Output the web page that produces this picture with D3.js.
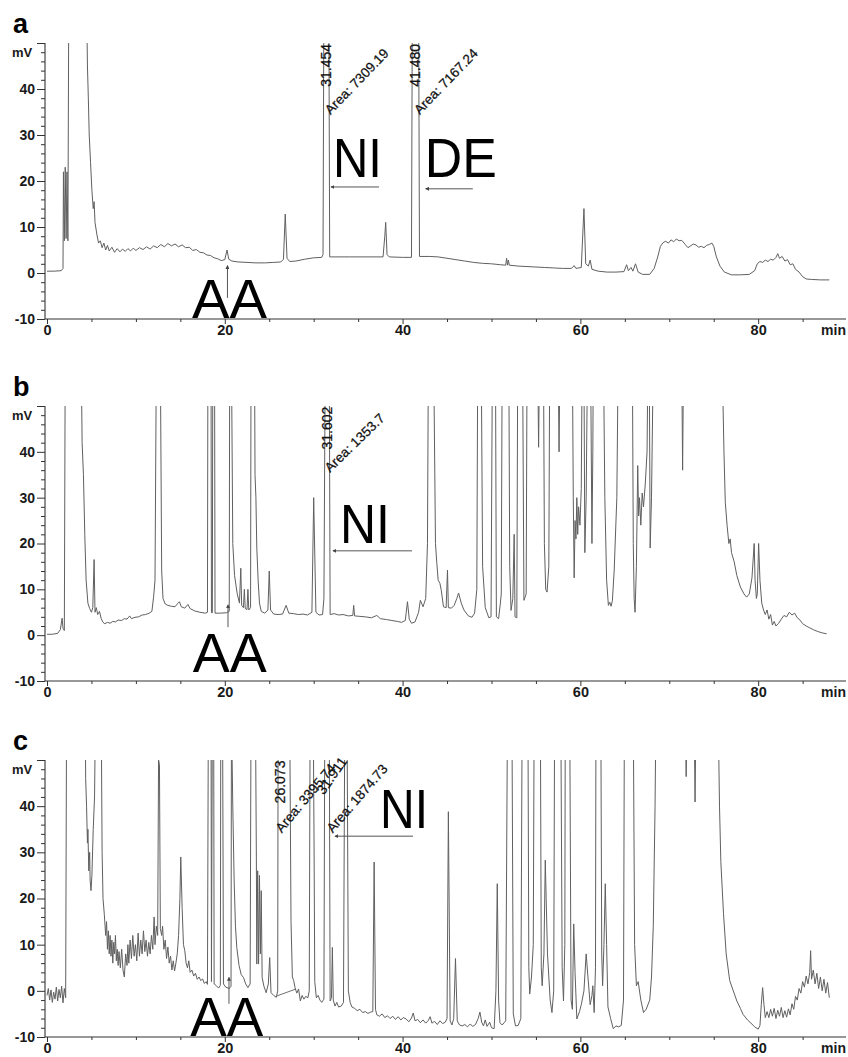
<!DOCTYPE html>
<html>
<head>
<meta charset="utf-8">
<script src="https://cdn.jsdelivr.net/npm/d3@7"></script>
<style>
  body { margin: 0; background: #fff; }
  svg { display: block; }
</style>
</head>
<body>
<svg id="chart" width="848" height="1057"></svg>
<script>
// Three HPLC chromatograms (a, b, c). Trace points are [min, mV];
// 60 stands for "off scale" (clipped at the 50 mV frame top).

const traceA = [
  [0,0.4],[0.8,0.4],[1.6,0.5],[1.8,1],[1.85,22],[1.95,7],[2.05,23],[2.15,7.5],[2.25,22],[2.35,7],[2.45,60],
  [4.45,60],[4.55,45],[4.65,38],[4.75,30],[4.9,24],[5.05,18],[5.2,14],[5.3,15.5],[5.4,11],[5.6,8.5],[5.8,6.5],
  [6.0,7],[6.2,5.5],[6.4,6.5],[6.6,5],[6.8,6],[7.0,4.8],[7.3,5.6],[7.6,4.5],[7.9,5.3],[8.2,4.6],[8.5,5.2],
  [8.8,4.7],[9.1,5.3],[9.4,4.8],[9.7,5.4],[10,4.9],[10.4,5.5],[10.8,5.1],[11.2,5.7],[11.6,5.2],[12,5.9],
  [12.4,5.5],[12.8,6.2],[13.2,5.7],[13.6,6.4],[14,5.9],[14.4,6.3],[14.8,5.7],[15.2,6.1],[15.6,5.5],[16,5.6],
  [16.4,4.9],[16.8,5.1],[17.2,4.5],[17.6,4.4],[18,3.9],[18.4,3.8],[18.8,3.3],[19.2,3.1],[19.6,2.7],[20.0,2.9],
  [20.25,5],[20.45,3],[20.8,2.6],[21.5,2.4],[22.5,2.3],[23.5,2.2],[24.5,2.2],[25.5,2.3],[26.3,2.4],[26.6,3],
  [26.8,12.8],[27.0,3.2],[27.3,2.5],[28,2.6],[29,3],[30,3.3],[30.9,3.4],[31.05,4],[31.15,60],[31.7,60],
  [31.8,3.5],[32.5,3.5],[34,3.5],[36,3.5],[37.8,3.5],[38.0,8],[38.1,11],[38.25,4],[38.5,3.5],[40,3.4],
  [41.0,3.4],[41.1,60],[41.8,60],[41.9,3.6],[43,3.6],[44,3.5],[45,3.2],[46,2.9],[47,2.6],[48,2.3],[49,2.1],
  [50,2],[51,1.8],[51.6,1.7],[51.7,3.2],[51.8,1.7],[51.9,2.8],[52,1.7],[53,1.5],[54,1.4],[55,1.3],[56,1.2],
  [57,1.1],[58,1],[59,1],[59.3,1.6],[59.5,1],[60.1,1.2],[60.4,14],[60.6,2],[60.9,1.5],[61.1,2.8],[61.3,0.8],
  [62,0.4],[63,0.2],[64,0.2],[64.9,0.3],[65.2,1.8],[65.4,0.5],[65.7,1.2],[65.9,0.4],[66.2,2],[66.5,0.2],
  [67,-0.3],[67.8,-0.3],[68.3,1],[68.7,3.5],[69,5.8],[69.3,6.6],[69.6,6.9],[69.9,6.5],[70.2,7.2],[70.5,6.8],
  [70.8,7.4],[71.1,7],[71.4,7.1],[71.8,6.2],[72.1,5.5],[72.4,5.9],[72.7,6.3],[73.0,6.1],[73.3,5.6],[73.6,5.8],
  [73.9,5.5],[74.2,6],[74.5,6.2],[74.8,6.5],[75.0,5.8],[75.3,3.5],[75.7,1.5],[76.2,0.2],[77,-0.4],[78,-0.4],
  [79,-0.3],[79.6,0.5],[79.9,2],[80.2,2.5],[80.5,2.3],[80.8,2.8],[81.1,2.5],[81.4,3],[81.7,2.8],[82,3.4],
  [82.2,4.2],[82.4,3.2],[82.7,3.6],[83,2.6],[83.3,2.9],[83.6,1.8],[83.9,2],[84.2,0.8],[84.6,0.2],[85,-0.8],
  [85.4,-1.3],[86,-1.4],[87,-1.5],[88,-1.5]
];

const traceB = [
  [0,0.2],[0.6,0.2],[1.2,0.4],[1.5,1.2],[1.7,3.7],[1.8,1.5],[1.95,1],[2.05,60],[3.85,60],[3.95,42],[4.1,35],
  [4.25,22],[4.4,12],[4.6,7],[4.8,5.8],[5.0,5],[5.15,6],[5.3,16.5],[5.4,5],[5.55,6],[5.7,4.5],[5.9,5.2],
  [6.1,3.6],[6.3,2.8],[6.5,2.5],[6.8,2.8],[7.1,2.6],[7.4,3],[7.7,2.9],[8,3.3],[8.4,3.2],[8.7,3.6],[9.0,3.5],
  [9.3,4.2],[9.5,3.6],[9.9,3.9],[10.3,4],[10.7,4.4],[11.1,4.5],[11.5,4.8],[11.8,5.2],[12.0,8.5],[12.15,12],
  [12.3,60],[12.75,60],[12.9,14],[13.05,8],[13.3,6.8],[13.6,6.5],[14.0,6.3],[14.4,6.2],[14.7,6.9],[14.9,7.3],
  [15.1,6.2],[15.5,5.9],[15.85,6.7],[16.1,5.8],[16.6,5.3],[17.2,5],[17.8,4.8],[18.05,5],[18.1,60],[18.45,60],
  [18.5,4.9],[18.6,4.9],[18.65,60],[18.85,60],[18.9,4.8],[19.5,4.8],[20.2,4.9],[20.5,5.2],[20.55,60],
  [20.75,60],[20.9,20],[21.1,13],[21.4,9],[21.65,7],[21.8,14.6],[21.9,6.5],[22.1,6],[22.2,10],[22.3,5.8],
  [22.5,5.6],[22.6,10],[22.7,5.5],[22.9,6],[22.95,60],[23.35,60],[23.4,35],[23.5,30],[23.6,19],[23.75,12],
  [23.9,7],[24.1,5.2],[24.5,4.8],[24.85,5.5],[25.0,14],[25.15,5.5],[25.5,4.6],[26.0,4.5],[26.5,4.6],
  [26.9,6.5],[27.2,4.8],[27.7,4.7],[28.3,4.5],[28.8,4.6],[29.3,4.4],[29.8,5],[30.0,30],[30.25,5],[30.6,4.4],
  [31.0,4.5],[31.15,8],[31.3,60],[31.75,60],[31.85,4.5],[32.3,4.7],[32.8,4.4],[33.3,4.5],[33.9,4.2],
  [34.4,4.3],[34.5,6.5],[34.6,4.2],[35.2,4.1],[35.8,4.0],[36.5,3.8],[37.1,4.3],[37.5,3.6],[38.2,3.4],
  [38.8,3.2],[39.4,3],[39.9,2.8],[40.3,3.2],[40.55,7.3],[40.75,3.5],[41.0,2.6],[41.4,2.9],[41.8,5],[42.0,7.6],
  [42.3,6.2],[42.6,8],[42.8,20],[42.9,60],[43.5,60],[43.7,20],[43.85,15.7],[44.0,12],[44.2,11.3],[44.35,9.8],
  [44.6,6.2],[44.9,6],[45.05,14.2],[45.15,6],[45.5,5.9],[45.8,6.5],[46.1,8],[46.3,9.2],[46.6,7],[46.9,5.5],
  [47.4,4.2],[47.8,3.9],[48.1,4.8],[48.35,10],[48.45,60],[48.85,60],[49.0,15],[49.3,6],[49.7,3.8],[49.95,4],
  [50.1,60],[50.45,60],[50.55,4],[50.8,3.6],[51.0,7],[51.1,9],[51.2,60],[51.95,60],[52.05,15],[52.2,5.4],
  [52.4,8],[52.55,22],[52.65,4],[52.85,3.8],[52.95,60],[53.5,60],[53.65,7.6],[53.9,9],[54.0,60],[55.2,60],
  [55.3,41],[55.4,60],[55.85,60],[55.95,20],[56.1,10],[56.25,9.4],[56.45,15],[56.55,60],[57.5,60],[57.6,40],
  [57.7,60],[59.1,60],[59.2,30],[59.3,12.5],[59.4,25],[59.5,21],[59.6,30],[59.7,22],[59.8,28],[59.95,24],
  [60.1,32],[60.2,60],[60.4,60],[60.5,18],[60.65,30],[60.8,60],[61.15,60],[61.3,20],[61.4,40],[61.45,60],
  [62.6,60],[62.75,30],[62.95,12],[63.15,6.5],[63.3,7.2],[63.45,6.3],[63.6,7.5],[63.8,14],[64.1,30],
  [64.25,60],[65.85,60],[65.95,20],[66.05,8],[66.15,5],[66.3,15],[66.45,37],[66.55,26],[66.65,30],[66.8,24],
  [66.95,31],[67.1,28],[67.3,33],[67.5,40],[67.6,60],[67.75,60],[67.85,19],[68.0,30],[68.2,60],[71.4,60],
  [71.5,36],[71.6,60],[75.95,60],[76.15,40],[76.3,29],[76.5,24],[76.7,20],[76.85,21],[77.0,18],[77.3,16],
  [77.6,13],[78.0,10.5],[78.4,9],[78.7,8.3],[79.0,9],[79.3,12.5],[79.55,20],[79.65,12],[79.8,8],[79.9,9],
  [80.05,20],[80.2,12],[80.4,7],[80.6,5.5],[80.8,4.5],[81.0,5.5],[81.2,3.5],[81.4,4.5],[81.6,2.2],[81.8,3],
  [82.0,2],[82.3,2.6],[82.6,3.5],[82.9,4.3],[83.2,4],[83.5,5],[83.8,4.4],[84.1,4.8],[84.4,3.8],[84.7,3.3],
  [85.0,2.5],[85.4,2],[85.8,1.6],[86.2,1.2],[86.7,0.8],[87.2,0.5],[87.7,0.3]
];

const traceC = [
  [0,-1],[0.15,0.5],[0.3,-2],[0.45,0.2],[0.6,-2.5],[0.75,-0.3],[0.9,-1.8],[1.05,0.8],[1.2,-2.2],[1.35,0.3],
  [1.5,-1.5],[1.65,1],[1.8,-2.6],[1.95,0.5],[2.1,-1.5],[2.2,60],[4.3,60],[4.35,46],[4.45,40],[4.55,32],
  [4.6,35],[4.7,26],[4.8,30],[4.85,24],[4.95,21.7],[5.05,25],[5.2,35],[5.35,42],[5.45,60],[6.1,60],[6.2,30],
  [6.3,20],[6.45,16.5],[6.6,12],[6.7,15],[6.8,9],[6.9,13],[7.0,8],[7.1,12],[7.2,7.5],[7.3,11],[7.4,6],
  [7.5,10.5],[7.6,8],[7.7,12],[7.8,6.5],[7.9,9],[8.0,5.5],[8.1,8.5],[8.25,5],[8.4,9],[8.55,4.5],[8.7,3],
  [8.85,8],[9.0,5.5],[9.1,10],[9.2,6],[9.35,11],[9.5,7],[9.65,12],[9.8,7.5],[9.95,10],[10.1,6.5],[10.25,12.5],
  [10.4,7.5],[10.55,11],[10.7,8],[10.85,13],[11.0,8.5],[11.15,11],[11.3,7.5],[11.45,10.5],[11.6,8],[11.75,12],
  [11.9,9],[12.05,16],[12.15,10],[12.3,14],[12.45,12],[12.55,50],[12.65,49],[12.75,13.5],[12.9,12],[13.0,14],
  [13.15,9],[13.3,11],[13.45,7],[13.6,9.5],[13.75,6],[13.9,7.5],[14.05,4.5],[14.2,6.5],[14.35,4.3],[14.5,6],
  [14.65,8],[14.8,12],[14.95,20],[15.05,29],[15.2,18],[15.35,10],[15.5,8.7],[15.65,6],[15.8,5],[15.95,6.5],
  [16.1,4],[16.3,4.5],[16.5,3.2],[16.7,3.8],[16.9,2.5],[17.1,3],[17.3,2.2],[17.5,2.6],[17.7,1.6],[17.9,2],
  [18.05,1.4],[18.15,60],[18.45,60],[18.5,2],[18.6,60],[18.75,60],[18.8,1.5],[19.0,1.2],[19.3,0.6],[19.5,1.2],
  [19.55,60],[19.75,60],[19.85,1.5],[20.1,0.8],[20.5,0.5],[20.7,1],[20.75,60],[20.9,40],[21.05,24],[21.2,14],
  [21.35,9.4],[21.6,5.5],[21.85,3.5],[22.1,2.9],[22.35,1.5],[22.6,0.7],[22.85,1.5],[22.95,60],[23.45,60],
  [23.55,29],[23.6,5.8],[23.7,26],[23.8,5.8],[23.9,25],[24.0,8],[24.1,21.7],[24.2,2.9],[24.4,1],[24.65,-0.4],
  [24.9,1.5],[25.05,7.2],[25.2,-0.4],[25.5,-1],[25.8,-1.4],[25.95,0],[26.0,60],[27.3,60],[27.45,15],[27.6,3],
  [27.75,2.2],[27.9,0.7],[28.1,-0.5],[28.3,0.4],[28.5,-2.2],[28.7,-1],[28.9,-1.8],[29.1,-1.2],[29.35,-1.5],
  [29.5,0],[29.6,60],[29.95,60],[30.05,29],[30.12,2],[30.3,-1.5],[30.5,-1],[30.7,-2],[30.9,-2.5],[31.15,-1.8],
  [31.25,60],[31.75,60],[31.85,-2.2],[32.0,-1.5],[32.1,9.4],[32.2,-2],[32.4,-3.3],[32.6,-2.5],[32.8,-3.5],
  [33.1,-3.3],[33.35,-2.5],[33.5,60],[33.75,60],[33.9,0],[34.1,-2.5],[34.3,-3.5],[34.6,-3.8],[34.9,-4.3],
  [35.2,-4],[35.5,-4.7],[35.8,-4.5],[36.1,-4.9],[36.4,-4.6],[36.65,-4.5],[36.8,27.9],[36.95,-4],[37.1,-5.2],
  [37.4,-5.5],[37.7,-5],[38,-5.8],[38.3,-5.4],[38.6,-6],[38.9,-5.5],[39.2,-6.2],[39.5,-5.6],[39.8,-6.3],
  [40.1,-5.8],[40.4,-6.1],[40.7,-6.7],[41.0,-5.9],[41.2,-4.8],[41.4,-6.5],[41.7,-6.2],[42.0,-6.9],[42.3,-6.3],
  [42.6,-7],[42.9,-6.4],[43.1,-5.6],[43.3,-7],[43.6,-6.6],[43.9,-7.3],[44.2,-6.5],[44.5,-7.1],[44.8,-6.8],
  [45.0,-6],[45.15,38.8],[45.35,-6.5],[45.55,-7.4],[45.75,-6],[45.95,7],[46.15,-6.5],[46.4,-7.4],[46.7,-7.6],
  [47.0,-7.3],[47.3,-7.8],[47.6,-7.2],[47.9,-7.7],[48.2,-7.3],[48.5,-6],[48.7,-4.6],[48.9,-6.8],[49.1,-7.6],
  [49.3,-6.3],[49.5,-7.7],[49.8,-6.8],[50.0,-8],[50.3,-8.2],[50.5,0],[50.65,23.2],[50.8,-2],[50.95,-6.9],
  [51.2,-7.4],[51.6,-6.5],[51.8,60],[52.3,60],[52.45,-5],[52.7,-7.6],[53.0,-7.5],[53.3,-6],[53.45,60],
  [54.1,60],[54.2,5],[54.3,-0.7],[54.5,3],[54.7,10],[54.8,60],[55.5,60],[55.6,5],[55.7,1.1],[55.9,8],
  [56.05,28.3],[56.15,20],[56.3,8],[56.6,-2],[56.8,-4.7],[57.0,0],[57.1,60],[57.8,60],[57.95,5],[58.1,-2.2],
  [58.25,10],[58.3,60],[58.8,60],[58.95,-2],[59.1,-4],[59.25,14.5],[59.4,4],[59.6,-6.1],[59.9,-4.5],
  [60.1,-3],[60.4,0],[60.65,8],[60.85,3],[61.1,-3],[61.3,-1],[61.4,1.1],[61.55,-4.7],[61.7,5],[61.75,60],
  [62.3,60],[62.4,8],[62.5,1.1],[62.65,10],[62.8,23.2],[62.95,10],[63.1,-3.5],[63.4,-6],[63.7,-8.2],
  [64.0,-7.6],[64.3,-7.8],[64.6,-7.5],[64.85,-2],[64.95,60],[65.95,60],[66.1,10],[66.3,1.1],[66.5,2],
  [66.8,-2],[67.1,-4.7],[67.4,-4],[67.8,-2],[68.0,3],[68.2,14],[68.4,40],[68.5,60],[71.8,60],[71.9,46.4],
  [72.0,60],[72.8,60],[72.9,40.9],[73.0,60],[75.5,60],[75.65,40],[75.8,28],[76.1,16.7],[76.4,8],[76.8,2.2],
  [77.2,0],[77.6,-2.2],[78.0,-3.8],[78.3,-5.1],[78.8,-6.3],[79.3,-7.2],[79.6,-7.8],[80.0,-8.3],[80.2,-7.5],
  [80.35,-3],[80.5,0.7],[80.65,-3],[80.8,-5.8],[81.0,-4.5],[81.2,-5.8],[81.4,-4],[81.6,-5.5],[81.8,-3.8],
  [82.0,-6],[82.2,-4.2],[82.4,-5.5],[82.6,-3.6],[82.8,-5.8],[83.0,-4.3],[83.2,-5.7],[83.4,-3.9],[83.6,-5.2],
  [83.8,-2.8],[84.0,-4],[84.2,-1.2],[84.4,-2],[84.6,0.5],[84.8,-0.5],[85.0,2],[85.2,0.8],[85.4,3.2],[85.6,1.5],
  [85.8,4],[85.9,8.7],[86.0,2.5],[86.2,4.5],[86.4,1.5],[86.6,3.8],[86.8,0.5],[87.0,3],[87.2,0],[87.4,2.5],
  [87.6,-0.5],[87.8,1.8],[88.0,-1.5]
];

// integration baseline drawn under the 26.073 peak in c
const baselineC = [[25.87,-1.1],[28.0,0.4]];

// axis ticks
const yTicks = [-10, 0, 10, 20, 30, 40, 50];
const yMinorTicks = [-8,-6,-4,-2,2,4,6,8,12,14,16,18,22,24,26,28,32,34,36,38,42,44,46,48];
const xTicks = [0, 20, 40, 60, 80];
const xMinorTicks = [5,10,15,25,30,35,45,50,55,65,70,75,85];

// integrator labels: retention time (min) and area
const rtA = [31.454, 41.480];
const areaA = [7309.19, 7167.24];
const rtB = [31.602];
const areaB = [1353.7];
const rtC = [26.073, 31.911];
const areaC = [3395.74, 1874.73];

// ---------- layout ----------
const W = 848;
const AXIS_X = 45;
const x = d3.scaleLinear().domain([0, 89.8]).range([47, 845.3]);
const FONT = "'Liberation Sans', Arial, Helvetica, sans-serif";
const INK = "#1a1a1a";
const TRACE = "#606060";

const panels = [
  { letter: "a", top: 43, bottom: 319, trace: traceA, rt: rtA, area: areaA,
    rtStyle: [{ dx: 4, rot: -90 }, { dx: 4, rot: -90 }],
    areaStyle: [{ dx: 4, v: 34.3, rot: -46 }, { dx: 4, v: 34.3, rot: -46 }],
    words: [{ s: "NI", t: 32.17, v: 20.9, w: 49 }, { s: "DE", t: 42.5, v: 20.9, w: 72 },
            { s: "AA", t: 16.3, v: -9.8, w: 75 }],
    arrows: [[37.35, 18.7, 31.95, 18.7], [47.9, 18.3, 42.6, 18.3], [20.3, -5.4, 20.3, 1.6]] },
  { letter: "b", top: 406, bottom: 681, trace: traceB, rt: rtB, area: areaB,
    rtStyle: [{ dx: 4, rot: -90 }],
    areaStyle: [{ dx: 2, v: 35.4, rot: -44 }],
    words: [{ s: "NI", t: 32.96, v: 20.1, w: 50 }, { s: "AA", t: 16.4, v: -8.0, w: 74 }],
    arrows: [[41.06, 18.4, 32.17, 18.4], [20.36, 1.75, 20.36, 6.6]] },
  { letter: "c", top: 760, bottom: 1037, trace: traceC, rt: rtC, area: areaC,
    rtStyle: [{ dx: 6, rot: -90, v: 40.6 }, { dx: -7, rot: -55, v: 42.3 }],
    areaStyle: [{ dx: 3, v: 34.1, rot: -50 }, { dx: 2, v: 34.1, rot: -49 }],
    words: [{ s: "NI", t: 37.46, v: 35.2, w: 48 }, { s: "AA", t: 16.1, v: -9.8, w: 73 }],
    arrows: [[41.17, 33.5, 32.4, 33.5], [20.47, -2.8, 20.47, 2.9]],
    extra: baselineC }
];

const svg = d3.select("#chart");
svg.append("rect").attr("width", W).attr("height", 1057).attr("fill", "#fff");

const defs = svg.append("defs");
defs.append("marker")
  .attr("id", "head").attr("viewBox", "0 0 6 6")
  .attr("refX", 5).attr("refY", 3)
  .attr("markerWidth", 4).attr("markerHeight", 4)
  .attr("orient", "auto")
  .append("path").attr("d", "M0,0 L6,3 L0,6 Z").attr("fill", "#444");

const line = d3.line();

panels.forEach((p, i) => {
  const y = d3.scaleLinear().domain([-10, 50]).range([p.bottom, p.top]);
  const g = svg.append("g");
  line.x(d => x(d[0])).y(d => y(d[1]));

  defs.append("clipPath").attr("id", "clip" + i)
    .append("rect").attr("x", AXIS_X).attr("y", p.top)
    .attr("width", 846 - AXIS_X).attr("height", p.bottom - p.top);

  // trace
  g.append("path").datum(p.trace)
    .attr("clip-path", `url(#clip${i})`)
    .attr("fill", "none").attr("stroke", TRACE)
    .attr("stroke-width", 1).attr("stroke-linejoin", "round")
    .attr("d", line);

  if (p.extra) {
    g.append("path").datum(p.extra)
      .attr("fill", "none").attr("stroke", TRACE).attr("stroke-width", 0.9)
      .attr("d", line);
  }

  // y axis: minor + major ticks
  g.append("g").attr("transform", `translate(${AXIS_X},0)`)
    .call(d3.axisLeft(y).tickValues(yMinorTicks).tickSize(4).tickFormat(""))
    .call(a => a.select(".domain").remove());
  const ya = g.append("g").attr("transform", `translate(${AXIS_X},0)`)
    .call(d3.axisLeft(y).tickValues(yTicks).tickSize(8).tickPadding(2)
      .tickFormat(d => d === 50 ? "" : d));
  ya.select(".domain").remove();
  ya.selectAll("text").attr("font-family", FONT).attr("font-size", 14)
    .attr("font-weight", "bold").attr("fill", INK);

  // x axis
  const xa = g.append("g").attr("transform", `translate(0,${p.bottom})`)
    .call(d3.axisBottom(x).tickValues(xTicks).tickSize(5).tickPadding(1));
  xa.select(".domain").remove();
  xa.selectAll("text").attr("font-family", FONT).attr("font-size", 14.5)
    .attr("font-weight", "bold").attr("fill", INK);
  g.append("g").attr("transform", `translate(0,${p.bottom})`)
    .call(d3.axisBottom(x).tickValues(xMinorTicks).tickSize(3).tickFormat(""))
    .call(a => a.select(".domain").remove());

  g.selectAll(".tick line").attr("stroke", "#333");

  // axis lines
  g.append("line").attr("x1", AXIS_X).attr("x2", AXIS_X)
    .attr("y1", p.top).attr("y2", p.bottom).attr("stroke", "#333").attr("stroke-width", 1.1);
  g.append("line").attr("x1", AXIS_X).attr("x2", 846)
    .attr("y1", p.bottom).attr("y2", p.bottom).attr("stroke", "#333").attr("stroke-width", 1.1);

  g.append("text").attr("x", 846).attr("y", p.bottom + 16)
    .attr("text-anchor", "end").attr("font-family", FONT).attr("font-size", 14)
    .attr("font-weight", "bold").attr("fill", INK).text("min");
  g.append("text").attr("x", 12).attr("y", p.top + 14)
    .attr("font-family", FONT).attr("font-size", 13)
    .attr("font-weight", "bold").attr("fill", INK).text("mV");
  g.append("text").attr("x", 13).attr("y", p.top - 10)
    .attr("font-family", FONT).attr("font-size", 27)
    .attr("font-weight", "bold").attr("fill", "#000").text(p.letter);

  // retention-time labels
  p.rt.forEach((t, k) => {
    const s = p.rtStyle[k];
    const lx = x(t) + s.dx, ly = y(s.v !== undefined ? s.v : 40.5);
    g.append("text").attr("transform", `translate(${lx},${ly}) rotate(${s.rot})`)
      .attr("font-family", FONT).attr("font-size", 14).attr("fill", "#111")
      .attr("stroke", "#111").attr("stroke-width", 0.25)
      .text(d3.format(".3f")(t));
  });
  // area labels
  p.area.forEach((a, k) => {
    const s = p.areaStyle[k];
    const lx = x(p.rt[k]) + s.dx, ly = y(s.v);
    g.append("text").attr("transform", `translate(${lx},${ly}) rotate(${s.rot})`)
      .attr("font-family", FONT).attr("font-size", 13.5).attr("fill", "#111")
      .attr("stroke", "#111").attr("stroke-width", 0.25)
      .text("Area: " + a);
  });

  // big annotation letters
  p.words.forEach(wd => {
    g.append("text").attr("x", x(wd.t)).attr("y", y(wd.v))
      .attr("font-family", FONT).attr("font-size", 56).attr("fill", "#000")
      .attr("textLength", wd.w).attr("lengthAdjust", "spacingAndGlyphs")
      .text(wd.s);
  });

  // arrows
  p.arrows.forEach(ar => {
    g.append("line")
      .attr("x1", x(ar[0])).attr("y1", y(ar[1]))
      .attr("x2", x(ar[2])).attr("y2", y(ar[3]))
      .attr("stroke", "#555").attr("stroke-width", 1)
      .attr("marker-end", "url(#head)");
  });
});
</script>
</body>
</html>
